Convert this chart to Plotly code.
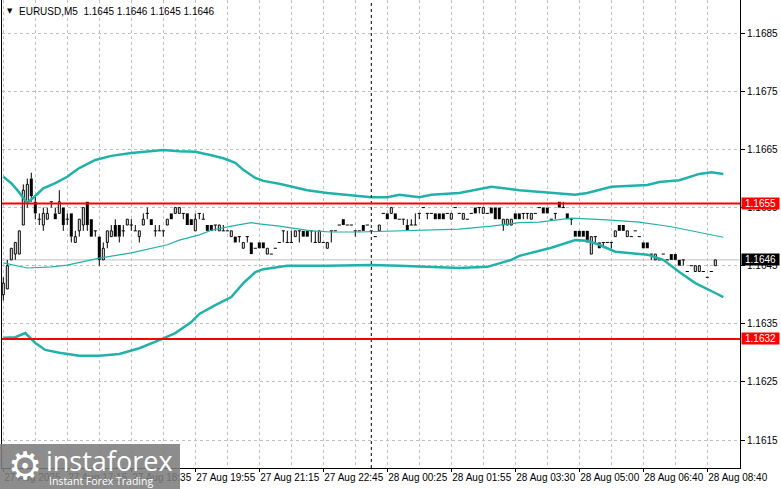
import plotly.graph_objects as go

# ---------------- data (EURUSD M5, 4-digit quotes) ----------------
opens = [1.1640,1.1641,1.1646,1.1647,1.1647,1.1652,1.1656,1.1660,1.1656,1.1653,
         1.1652,1.1653,1.1656,1.1654,1.1654,1.1655,1.1653,1.1654,1.1649,1.1651,
         1.1652,1.1656,1.1653,1.1651,1.1650,1.1646,1.1649,1.1650,1.1652,1.1652,
         1.1651,1.1652,1.1652,1.1651,1.1650,1.1652,1.1654,1.1653,1.1651,1.1651,
         1.1651,1.1652,1.1654,1.1654,1.1654,1.1654,1.1654,1.1653,1.1651,1.1654,
         1.1653,1.1652,1.1652,1.1652,1.1651,1.1651,1.1651,1.1650,1.1650,1.1650,
         1.1648,1.1650,1.1649,1.1648,1.1649,1.1649,1.1647,1.1647,1.1648,1.1649,
         1.1651,1.1649,1.1649,1.1650,1.1651,1.1651,1.1651,1.1651,1.1649,1.1649,
         1.1649,1.1648,1.1651,1.1651,1.1652,1.1653,1.1652,1.1652,1.1651,1.1651,
         1.1652,1.1652,1.1651,1.1650,1.1651,1.1654,1.1654,1.1654,1.1654,1.1653,
         1.1653,1.1652,1.1652,1.1652,1.1654,1.1655,1.1654,1.1654,1.1654,1.1654,
         1.1654,1.1654,1.1653,1.1655,1.1654,1.1653,1.1653,1.1654,1.1655,1.1655,
         1.1654,1.1654,1.1655,1.1655,1.1655,1.1652,1.1652,1.1652,1.1654,1.1654,
         1.1654,1.1654,1.1653,1.1654,1.1655,1.1655,1.1655,1.1653,1.1654,1.1656,
         1.1655,1.1654,1.1653,1.1651,1.1651,1.1651,1.1651,1.1647,1.1650,1.1649,
         1.1649,1.1649,1.1649,1.1650,1.1652,1.1652,1.1650,1.1650,1.1651,1.1650,
         1.1649,1.1649,1.1647,1.1646,1.1646,1.1647,1.1646,1.1647,1.1647,1.1646,
         1.1646,1.1644,1.1645,1.1644,1.1644,1.1644,1.1643,1.1644,1.1645]
highs = [1.1643,1.1646,1.1648,1.1649,1.1651,1.1659,1.1660,1.1661,1.1657,1.1654,
         1.1655,1.1655,1.1656,1.1655,1.1658,1.1655,1.1654,1.1654,1.1651,1.1653,
         1.1655,1.1656,1.1653,1.1651,1.1650,1.1649,1.1651,1.1652,1.1653,1.1652,
         1.1652,1.1653,1.1653,1.1652,1.1651,1.1654,1.1655,1.1653,1.1652,1.1652,
         1.1651,1.1653,1.1654,1.1655,1.1655,1.1654,1.1654,1.1653,1.1654,1.1654,
         1.1654,1.1652,1.1652,1.1652,1.1652,1.1652,1.1651,1.1651,1.1650,1.1650,
         1.1649,1.1650,1.1649,1.1648,1.1649,1.1649,1.1648,1.1647,1.1648,1.1649,
         1.1651,1.1651,1.1651,1.1651,1.1651,1.1651,1.1651,1.1651,1.1651,1.1651,
         1.1649,1.1649,1.1651,1.1651,1.1652,1.1653,1.1652,1.1652,1.1651,1.1651,
         1.1652,1.1652,1.1651,1.1650,1.1652,1.1654,1.1654,1.1655,1.1654,1.1653,
         1.1653,1.1653,1.1653,1.1654,1.1654,1.1655,1.1654,1.1654,1.1654,1.1654,
         1.1654,1.1654,1.1654,1.1655,1.1654,1.1654,1.1653,1.1654,1.1655,1.1655,
         1.1655,1.1654,1.1655,1.1655,1.1655,1.1653,1.1653,1.1653,1.1654,1.1654,
         1.1654,1.1654,1.1654,1.1654,1.1655,1.1655,1.1655,1.1653,1.1654,1.1656,
         1.1656,1.1654,1.1653,1.1651,1.1651,1.1651,1.1651,1.1650,1.1650,1.1649,
         1.1649,1.1649,1.1649,1.1651,1.1652,1.1652,1.1651,1.1650,1.1651,1.1650,
         1.1649,1.1649,1.1647,1.1647,1.1646,1.1647,1.1646,1.1647,1.1647,1.1646,
         1.1646,1.1644,1.1645,1.1645,1.1645,1.1644,1.1643,1.1644,1.1646]
lows = [1.1639,1.1641,1.1646,1.1646,1.1647,1.1652,1.1655,1.1656,1.1653,1.1652,
        1.1651,1.1653,1.1655,1.1653,1.1654,1.1651,1.1652,1.1649,1.1649,1.1650,
        1.1651,1.1651,1.1650,1.1650,1.1645,1.1646,1.1648,1.1650,1.1650,1.1649,
        1.1650,1.1652,1.1651,1.1651,1.1649,1.1652,1.1653,1.1652,1.1650,1.1651,
        1.1650,1.1652,1.1653,1.1654,1.1654,1.1653,1.1652,1.1652,1.1651,1.1653,
        1.1653,1.1651,1.1651,1.1651,1.1651,1.1651,1.1651,1.1650,1.1649,1.1649,
        1.1648,1.1649,1.1647,1.1648,1.1648,1.1648,1.1647,1.1647,1.1648,1.1649,
        1.1649,1.1649,1.1649,1.1650,1.1649,1.1650,1.1650,1.1649,1.1649,1.1649,
        1.1649,1.1648,1.1649,1.1651,1.1652,1.1652,1.1652,1.1652,1.1650,1.1651,
        1.1651,1.1652,1.1651,1.1650,1.1651,1.1654,1.1653,1.1654,1.1653,1.1653,
        1.1652,1.1651,1.1652,1.1652,1.1653,1.1655,1.1653,1.1654,1.1653,1.1653,
        1.1653,1.1654,1.1653,1.1655,1.1654,1.1653,1.1653,1.1654,1.1654,1.1654,
        1.1654,1.1654,1.1654,1.1653,1.1653,1.1651,1.1652,1.1652,1.1653,1.1653,
        1.1653,1.1653,1.1653,1.1654,1.1655,1.1654,1.1654,1.1653,1.1653,1.1655,
        1.1655,1.1653,1.1652,1.1650,1.1650,1.1650,1.1649,1.1647,1.1649,1.1648,
        1.1648,1.1649,1.1648,1.1650,1.1651,1.1651,1.1650,1.1650,1.1651,1.1650,
        1.1648,1.1648,1.1646,1.1646,1.1646,1.1647,1.1646,1.1646,1.1646,1.1645,
        1.1645,1.1644,1.1645,1.1644,1.1644,1.1644,1.1643,1.1644,1.1645]
closes = [1.1642,1.1645,1.1648,1.1649,1.1651,1.1658,1.1659,1.1657,1.1654,1.1653,
          1.1654,1.1654,1.1656,1.1653,1.1656,1.1652,1.1653,1.1650,1.1650,1.1653,
          1.1655,1.1652,1.1650,1.1651,1.1646,1.1648,1.1651,1.1651,1.1650,1.1650,
          1.1651,1.1653,1.1652,1.1651,1.1651,1.1653,1.1654,1.1652,1.1651,1.1651,
          1.1651,1.1653,1.1653,1.1655,1.1655,1.1654,1.1652,1.1652,1.1653,1.1654,
          1.1653,1.1651,1.1651,1.1652,1.1652,1.1651,1.1651,1.1651,1.1649,1.1650,
          1.1649,1.1650,1.1647,1.1648,1.1648,1.1648,1.1648,1.1647,1.1648,1.1649,
          1.1651,1.1649,1.1649,1.1651,1.1651,1.1650,1.1650,1.1651,1.1649,1.1651,
          1.1649,1.1649,1.1651,1.1651,1.1652,1.1652,1.1652,1.1652,1.1651,1.1651,
          1.1651,1.1652,1.1651,1.1650,1.1652,1.1654,1.1653,1.1655,1.1653,1.1653,
          1.1653,1.1651,1.1652,1.1652,1.1654,1.1655,1.1654,1.1654,1.1653,1.1653,
          1.1653,1.1654,1.1654,1.1655,1.1654,1.1654,1.1653,1.1654,1.1654,1.1655,
          1.1655,1.1654,1.1654,1.1653,1.1653,1.1653,1.1653,1.1653,1.1653,1.1653,
          1.1654,1.1654,1.1654,1.1654,1.1655,1.1654,1.1654,1.1653,1.1654,1.1655,
          1.1655,1.1653,1.1653,1.1650,1.1650,1.1650,1.1649,1.1650,1.1650,1.1648,
          1.1649,1.1649,1.1649,1.1651,1.1651,1.1651,1.1651,1.1650,1.1651,1.1650,
          1.1648,1.1648,1.1647,1.1647,1.1646,1.1647,1.1646,1.1646,1.1646,1.1645,
          1.1646,1.1644,1.1645,1.1645,1.1645,1.1644,1.1643,1.1644,1.1646]

# Bollinger bands (bar position, price)
upper_x = [0,2,3.5,5,6,7.5,10,13,16,17.5,19,23,27,32,37,40,44,48,52,55,58,60,63,65,69,72,
           76,81,85,92,96,99,104,107,114,118,122,129,137,143,146,152,161,164,169,174,177,180]
upper_y = [1.16603,1.16592,1.16580,1.16567,1.16558,1.16567,1.16583,1.16592,1.16603,1.16611,
           1.16618,1.16632,1.16639,1.16644,1.16647,1.16649,1.16647,1.16646,1.16640,1.16635,
           1.16627,1.16615,1.16601,1.16596,1.16591,1.16586,1.16580,1.16575,1.16572,1.16568,
           1.16568,1.16572,1.16568,1.16572,1.16575,1.16580,1.16586,1.16580,1.16575,1.16572,
           1.16575,1.16586,1.16589,1.16594,1.16597,1.16608,1.16611,1.16608]
mid_x = [0,3.5,6,12,16,24,32,41,44,49,52,57,62,64,69,77,82,89,97,106,114,122,129,134,142,
         151,159,167,174,180]
mid_y = [1.16455,1.16450,1.16446,1.16448,1.16451,1.16463,1.16472,1.16486,1.16494,1.16503,
         1.16511,1.16518,1.16524,1.16522,1.16518,1.16510,1.16508,1.16508,1.16510,1.16511,
         1.16513,1.16518,1.16524,1.16525,1.16532,1.16529,1.16525,1.16517,1.16508,1.16499]
lower_x = [0,3,5.5,8,10.5,14,19,24,29,34,39,43,47,49,53,57,60,63,65,71,81,86,92,99,106,
           114,121,127,129,137,143,146,149,153,161,165,169,173,178,180]
lower_y = [1.16326,1.16327,1.16334,1.16317,1.16305,1.16300,1.16295,1.16295,1.16298,1.16308,
           1.16322,1.16334,1.16353,1.16367,1.16382,1.16396,1.16420,1.16439,1.16444,1.16450,
           1.16450,1.16451,1.16451,1.16450,1.16448,1.16446,1.16448,1.16460,1.16467,1.16481,
           1.16494,1.16493,1.16486,1.16474,1.16469,1.16460,1.16439,1.16420,1.16403,1.16396]

levels = [1.16557, 1.16324]
level_labels = ["1.1655", "1.1632"]
bid = 1.1646
bid_label = "1.1646"
session_bar = 92

tick_bars = [0,16,32,48,64,80,96,112,128,144,160,176]
tick_labels = ["27 Aug 2025","27 Aug 17:15","27 Aug 18:35","27 Aug 19:55","27 Aug 21:15",
               "27 Aug 22:45","28 Aug 00:25","28 Aug 01:55","28 Aug 03:30","28 Aug 05:00",
               "28 Aug 06:40","28 Aug 08:40"]
price_ticks = [1.1615,1.1625,1.1635,1.1645,1.1655,1.1665,1.1675,1.1685]
price_tick_labels = ["1.1615","1.1625","1.1635","1.1645","1.1655","1.1665","1.1675","1.1685"]
title_text = "EURUSD,M5\u00a0\u00a01.1645 1.1646 1.1645 1.1646"

# ---------------- figure ----------------
FONT = "Liberation Sans"
W, H = 781, 489
ML, MR, MT, MB = 2, 41, 0, 21
PW, PH = W - ML - MR, H - MT - MB

n = len(opens)
idx = list(range(n))
bull = [i for i in idx if closes[i] > opens[i]]
bear = [i for i in idx if closes[i] < opens[i]]
doji = [i for i in idx if closes[i] == opens[i]]

wx, wy = [], []
for i in idx:
    top, bot = max(opens[i], closes[i]), min(opens[i], closes[i])
    if highs[i] > top:
        wx += [i, i, None]; wy += [top, highs[i], None]
    if lows[i] < bot:
        wx += [i, i, None]; wy += [bot, lows[i], None]

dx, dy = [], []
for i in doji:
    dx += [i - 0.4, i + 0.4, None]; dy += [opens[i], opens[i], None]

teal = "#20b2aa"
fig = go.Figure()
fig.add_trace(go.Scatter(x=wx, y=wy, mode="lines", line=dict(color="black", width=1),
                         hoverinfo="skip"))
fig.add_trace(go.Bar(x=bear, base=[closes[i] for i in bear],
                     y=[opens[i] - closes[i] for i in bear], width=0.75,
                     marker=dict(color="black", line=dict(width=0)), hoverinfo="skip"))
fig.add_trace(go.Bar(x=bull, base=[opens[i] for i in bull],
                     y=[closes[i] - opens[i] for i in bull], width=0.5,
                     marker=dict(color="white", line=dict(color="black", width=1)),
                     hoverinfo="skip"))
fig.add_trace(go.Scatter(x=dx, y=dy, mode="lines", line=dict(color="black", width=1),
                         hoverinfo="skip"))
fig.add_trace(go.Scatter(x=upper_x, y=upper_y, mode="lines", line=dict(color=teal, width=2.5)))
fig.add_trace(go.Scatter(x=mid_x, y=mid_y, mode="lines", line=dict(color=teal, width=1.2)))
fig.add_trace(go.Scatter(x=lower_x, y=lower_y, mode="lines", line=dict(color=teal, width=2.5)))

shapes = [
    dict(type="line", xref="paper", x0=0, x1=1, yref="y", y0=bid, y1=bid,
         line=dict(color="#c0c0c0", width=1), layer="below"),
    dict(type="line", xref="x", x0=session_bar, x1=session_bar, yref="paper", y0=0, y1=1,
         line=dict(color="black", width=1, dash="3px,3px"), layer="above"),
]
for lv in levels:
    shapes.append(dict(type="line", xref="paper", x0=0, x1=1, yref="y", y0=lv, y1=lv,
                       line=dict(color="#ff0000", width=2), layer="above"))
# watermark panel
shapes.append(dict(type="rect", xref="paper", yref="paper",
                   x0=(0 - ML) / PW, x1=(180 - ML) / PW,
                   y0=(PH - 489) / PH, y1=(PH - 444) / PH,
                   fillcolor="rgba(125,125,125,0.88)", line=dict(width=0), layer="above"))

ann = []
for lv, lab in zip(levels, level_labels):
    ann.append(dict(x=1, xref="paper", xanchor="left", xshift=1, y=lv, yref="y",
                    yanchor="middle", text=lab, showarrow=False, bgcolor="#ff0000",
                    font=dict(family=FONT, size=10, color="white"), width=37, height=11,
                    borderpad=0, align="center"))
ann.append(dict(x=1, xref="paper", xanchor="left", xshift=1, y=bid, yref="y",
                yanchor="middle", text=bid_label, showarrow=False, bgcolor="black",
                font=dict(family=FONT, size=10, color="white"), width=37, height=11,
                borderpad=0, align="center"))
ann.append(dict(x=(9.5 - ML) / PW, xref="paper", y=(PH - 11) / PH, yref="paper",
                xanchor="center", yanchor="middle", text="▼", showarrow=False,
                font=dict(family="DejaVu Sans", size=7, color="black")))
ann.append(dict(x=(17 - ML) / PW, xref="paper", y=(PH - 11) / PH, yref="paper",
                xanchor="left", yanchor="middle", text=title_text, showarrow=False,
                font=dict(family=FONT, size=10, color="black")))
# watermark texts
ann.append(dict(x=(25 - ML) / PW, xref="paper", y=(PH - 466) / PH, yref="paper",
                xanchor="center", yanchor="middle", text="⚙", showarrow=False,
                font=dict(family="DejaVu Sans", size=38, color="white")))
ann.append(dict(x=(44 - ML) / PW, xref="paper", y=(PH - 460) / PH, yref="paper",
                xanchor="left", yanchor="middle", text="instaforex", showarrow=False,
                font=dict(family="Open Sans", size=27, color="white")))
ann.append(dict(x=(47 - ML) / PW, xref="paper", y=(PH - 481) / PH, yref="paper",
                xanchor="left", yanchor="middle", text="Instant Forex Trading",
                showarrow=False, font=dict(family="Open Sans", size=10.5, color="white")))

grid = "#c0c0c0"
fig.update_layout(
    width=W, height=H, margin=dict(l=ML, r=MR, t=MT, b=MB, autoexpand=False),
    paper_bgcolor="white", plot_bgcolor="white", showlegend=False,
    barmode="overlay", hovermode=False, shapes=shapes, annotations=ann,
    font=dict(family=FONT, size=10, color="black"),
    xaxis=dict(range=[-0.325, 184.175], tickmode="array", tickvals=tick_bars,
               ticktext=tick_labels, ticks="outside", ticklen=3, tickcolor="black",
               ticklabelposition="outside right", tickangle=0, showgrid=True, gridcolor=grid,
               griddash="3px,3px", gridwidth=1, zeroline=False, showline=True,
               linecolor="black", linewidth=1, automargin=False,
               tickfont=dict(family=FONT, size=10, color="black"),
               minor=dict(tickmode="array", tickvals=list(range(0, 185, 8)), showgrid=True,
                          gridcolor=grid, griddash="3px,3px", gridwidth=1, ticks="")),
    yaxis=dict(range=[1.161018, 1.169073], side="right", tickmode="array",
               tickvals=price_ticks, ticktext=price_tick_labels, ticks="outside", ticklen=4,
               tickcolor="black", showgrid=True, gridcolor=grid, griddash="3px,3px",
               gridwidth=1, zeroline=False, showline=True, mirror=True, linecolor="black",
               linewidth=1, automargin=False,
               tickfont=dict(family=FONT, size=10, color="black")),
)
fig.write_html("out.html", config={"displayModeBar": False},
               post_script="document.body.style.margin='0';document.body.style.padding='0';"
                           "document.documentElement.style.overflow='hidden';")
